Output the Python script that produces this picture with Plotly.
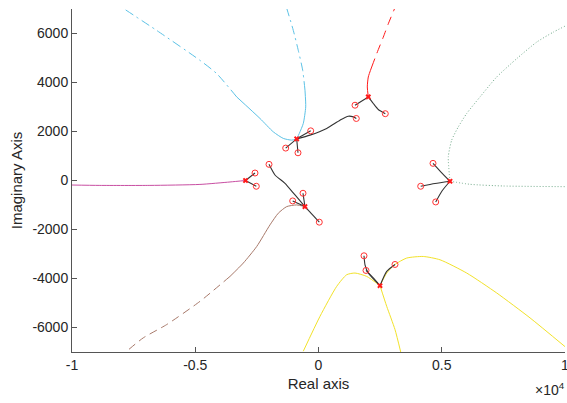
import plotly.graph_objects as go

# ---------------- data (real / imaginary parts) ----------------
# poles (x marks) and zeros (o marks)
pole_re = [-2960, -550, -885, 2020, 5335, 2495]
pole_im = [0, -1065, 1700, 3411, -30, -4294]

zero_re = [-2576, -2523,
           -2008, -629, -1047, 32,
           -316, -1331, -832, 1534,
           1481, 2710,
           4645, 4146, 4755,
           1846, 1927, 3104]
zero_im = [305, -236,
           659, -521, -834, -1701,
           2027, 1323, 1131, 2532,
           3073, 2727,
           700, -236, -875,
           -3073, -3671, -3427]

# black pole->zero curves
black_paths = [
    ([-2960, -2576], [0, 305]),
    ([-2960, -2523], [0, -236]),
    ([-550, -953, -1359, -1765, -2008], [-1065, -590, -114, 224, 659]),
    ([-550, -629], [-1065, -521]),
    ([-550, -1047], [-1065, -834]),
    ([-550, 32], [-1065, -1701]),
    ([-885, -316], [1700, 2027]),
    ([-885, -1331], [1700, 1323]),
    ([-885, -832], [1700, 1131]),
    ([-885, -345, 333, 872, 1209, 1412, 1534], [1700, 1852, 2125, 2462, 2625, 2597, 2532]),
    ([2020, 1481], [3411, 3073]),
    ([2020, 2223, 2426, 2710], [3411, 3142, 2898, 2727]),
    ([5335, 4970, 4645], [-30, 346, 700]),
    ([5335, 4726, 4146], [-30, -122, -236]),
    ([5335, 5010, 4755], [-30, -427, -875]),
    ([2495, 2020, 1887, 1846], [-4294, -3777, -3439, -3073]),
    ([2495, 2211, 1927], [-4294, -3968, -3671]),
    ([2495, 2767, 3104], [-4294, -3712, -3427]),
]

# coloured branches
pink_re = [-2960, -3590, -4810, -6840, -8870, -10000]
pink_im = [0, -60, -160, -200, -200, -185]

brown_re = [-550, -884, -1290, -1631, -1968, -2507, -3051, -3590, -4808, -6159, -7108, -7781]
brown_im = [-1065, -997, -1066, -1335, -1811, -2695, -3370, -3915, -4933, -5881, -6422, -6968]

cyan_r_re = [-885, -779, -617, -519, -548, -641, -820, -1022, -1280]
cyan_r_im = [1700, 1921, 2328, 3004, 3683, 4497, 5311, 6125, 7000]

cyan_l_re = [-885, -1087, -1428, -1834, -2373, -3319, -4130, -4808, -6564, -7880]
cyan_l_im = [1700, 1648, 1718, 1986, 2532, 3411, 4363, 4904, 6125, 7000]

red_re = [2020, 1980, 2020, 2158, 2361, 2629, 2832, 3080]
red_im = [3411, 3818, 4225, 4632, 5177, 5853, 6398, 7000]

green_u_re = [5335, 5266, 5404, 5672, 6012, 6552, 7230, 8041, 8852, 9526, 10000]
green_u_im = [-30, 969, 1648, 2189, 2735, 3411, 4225, 4973, 5649, 6056, 6300]
green_r_re = [5335, 6146, 7497, 10000]
green_r_im = [-30, -155, -224, -252]

yel_l_re = [2495, 1956, 1481, 1144, 738, 61, -617]
yel_l_im = [-4294, -3915, -3777, -3846, -4322, -5543, -6968]
yel_d_re = [2495, 2767, 3104, 3335]
yel_d_im = [-4294, -5136, -6085, -7000]
yel_r_re = [2495, 2767, 3104, 3578, 4252, 4929, 6012, 7230, 8581, 10000]
yel_r_im = [-4294, -3777, -3427, -3166, -3101, -3236, -3777, -4591, -5608, -6780]

x_tickvals = [-10000, -5000, 0, 5000, 10000]
x_ticktext = ["-1", "-0.5", "0", "0.5", "1"]
y_tickvals = [-6000, -4000, -2000, 0, 2000, 4000, 6000]
y_ticktext = ["-6000", "-4000", "-2000", "0", "2000", "4000", "6000"]

# ---------------- figure ----------------
PINK = "#c84ea2"
BROWN = "#a8796a"
CYAN = "#5cc2e6"
RED = "#ff1a1a"
GREEN = "#6fa888"
YELLOW = "#f2e22a"
FONT = "Liberation Sans, Arial, sans-serif"
TXT = "#262626"

fig = go.Figure()


def line(xs, ys, color, dash="solid", width=1.0):
    fig.add_trace(go.Scatter(x=xs, y=ys, mode="lines",
                             line=dict(color=color, width=width, dash=dash, shape="spline", smoothing=0.6),
                             hoverinfo="skip", showlegend=False, cliponaxis=True))


def split_line(xs, ys, k, color, dash):
    line(xs[:k + 1], ys[:k + 1], color)
    line(xs[k:], ys[k:], color, dash)


line(pink_re, pink_im, PINK)
split_line(brown_re, brown_im, 7, BROWN, "8px,5px")
split_line(cyan_r_re, cyan_r_im, 4, CYAN, "9px,4px,2px,4px")
split_line(cyan_l_re, cyan_l_im, 5, CYAN, "9px,4px,2px,4px")
split_line(red_re, red_im, 3, RED, "9px,6px")
line(green_u_re, green_u_im, GREEN, "1px,2px")
line(green_r_re, green_r_im, GREEN, "1px,2px")
line(yel_l_re, yel_l_im, YELLOW)
line(yel_d_re, yel_d_im, YELLOW)
line(yel_r_re, yel_r_im, YELLOW)

for bx, by in black_paths:
    line(bx, by, "#333333", width=1.1)

fig.add_trace(go.Scatter(x=zero_re, y=zero_im, mode="markers",
                         marker=dict(symbol="circle-open", size=6, color="#ff3333", line=dict(width=1)),
                         hoverinfo="skip", showlegend=False))
fig.add_trace(go.Scatter(x=pole_re, y=pole_im, mode="markers",
                         marker=dict(symbol="x", size=5, color="#ff1a1a", line=dict(width=0)),
                         hoverinfo="skip", showlegend=False))

axis_common = dict(showgrid=False, zeroline=False, showline=True, linecolor="#555555", linewidth=1,
                   ticks="inside", ticklen=5, tickcolor="#555555", mirror=False, automargin=False,
                   ticklabeloverflow="allow",
                   tickfont=dict(family=FONT, size=14, color=TXT))

fig.update_xaxes(range=[-10000, 10000], tickvals=x_tickvals, ticktext=x_ticktext,
                 title=dict(text="Real axis", standoff=6, font=dict(family=FONT, size=15, color=TXT)),
                 **axis_common)
fig.update_yaxes(range=[-7000, 7000], tickvals=y_tickvals, ticktext=y_ticktext,
                 title=dict(text="Imaginary Axis", standoff=6, font=dict(family=FONT, size=15, color=TXT)),
                 **axis_common)

fig.add_annotation(text="×10<sup>4</sup>", xref="paper", yref="paper", x=1.005, y=-0.075,
                   xanchor="right", yanchor="top", showarrow=False,
                   font=dict(family=FONT, size=14, color=TXT))

fig.update_layout(width=567, height=403, plot_bgcolor="white", paper_bgcolor="white",
                  margin=dict(l=72, r=2, t=9, b=51))

fig.write_html("out.html", config={"displayModeBar": False},
               post_script="document.body.style.margin='0';document.body.style.overflow='hidden';")
